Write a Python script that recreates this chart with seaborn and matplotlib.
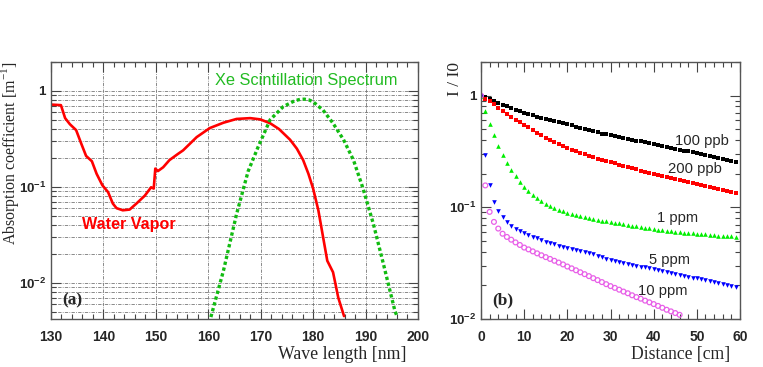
import numpy as np
import matplotlib
matplotlib.use("Agg")
import matplotlib.pyplot as plt
import matplotlib.ticker as mticker
import seaborn as sns

# (a) absorption of water vapour and Xe scintillation spectrum
wv_nm = [130, 131.9, 132.7, 133.6, 134.8, 135.8, 136.7, 137.8, 138.7, 139.8, 140.9,
         141.8, 142.5, 143.7, 145.0, 146.3, 147.9, 149.1, 149.6, 149.9, 150.4, 151.4,
         152.6, 154.2, 155.2, 157.8, 160.3, 162.9, 165.4, 168.0, 169.9, 171.8, 173.5,
         175.6, 176.9, 178.1, 179.1, 180.0, 181.0, 181.9, 182.7, 183.8, 184.8, 185.9]
wv_abs = [0.72, 0.71, 0.52, 0.45, 0.39, 0.28, 0.21, 0.185, 0.137, 0.104, 0.088,
          0.067, 0.060, 0.057, 0.058, 0.067, 0.081, 0.099, 0.096, 0.155, 0.146, 0.16,
          0.19, 0.22, 0.24, 0.33, 0.41, 0.466, 0.51, 0.52, 0.505, 0.46, 0.40,
          0.31, 0.25, 0.19, 0.137, 0.096, 0.057, 0.030, 0.017, 0.0129, 0.0070, 0.0045]

xe_nm = [160.5, 162.9, 165.4, 167.6, 169.5, 171.8, 174.3, 176.5, 177.5, 178.3, 179.2,
         180.0, 181.9, 183.8, 185.8, 187.7, 189.5, 191.5, 193.4, 195.6, 196.0]
xe_spec = [0.0044, 0.0134, 0.052, 0.145, 0.26, 0.50, 0.685, 0.79, 0.815, 0.82, 0.805,
           0.77, 0.63, 0.46, 0.31, 0.19, 0.097, 0.041, 0.0158, 0.0051, 0.0045]

# (b) transmission vs distance for several water concentrations
dist_cm = list(range(60))
t_100ppb = [1.0, 0.966, 0.927, 0.895, 0.863, 0.832, 0.80, 0.771, 0.748, 0.726,
            0.705, 0.685, 0.665, 0.647, 0.634, 0.621, 0.607, 0.593, 0.578, 0.565,
            0.553, 0.541, 0.527, 0.515, 0.505, 0.493, 0.483, 0.468, 0.457, 0.449,
            0.441, 0.433, 0.425, 0.417, 0.409, 0.404, 0.396, 0.389, 0.382, 0.374,
            0.366, 0.36, 0.353, 0.346, 0.34, 0.333, 0.328, 0.322, 0.316, 0.311,
            0.305, 0.299, 0.293, 0.287, 0.281, 0.275, 0.27, 0.264, 0.259, 0.252]
t_200ppb = [1.0, 0.933, 0.895, 0.836, 0.776, 0.724, 0.679, 0.64, 0.607, 0.575,
            0.547, 0.519, 0.49, 0.465, 0.442, 0.42, 0.401, 0.383, 0.366, 0.352,
            0.34, 0.327, 0.316, 0.307, 0.297, 0.288, 0.28, 0.272, 0.265, 0.259,
            0.253, 0.247, 0.24, 0.234, 0.229, 0.223, 0.218, 0.213, 0.208, 0.204,
            0.2, 0.195, 0.191, 0.187, 0.183, 0.179, 0.175, 0.172, 0.169, 0.166,
            0.162, 0.159, 0.156, 0.153, 0.15, 0.147, 0.144, 0.141, 0.138, 0.135]
t_1ppm = [1.0, 0.73, 0.56, 0.44, 0.355, 0.292, 0.249, 0.214, 0.189, 0.168,
          0.152, 0.14, 0.13, 0.121, 0.114, 0.108, 0.103, 0.099, 0.095, 0.092,
          0.089, 0.087, 0.085, 0.083, 0.082, 0.08, 0.079, 0.077, 0.076, 0.075,
          0.074, 0.073, 0.072, 0.0705, 0.0695, 0.0685, 0.0675, 0.0665, 0.0655, 0.065,
          0.064, 0.0632, 0.0625, 0.0617, 0.061, 0.0604, 0.06, 0.0594, 0.0589, 0.0584,
          0.0579, 0.0575, 0.0571, 0.0566, 0.0562, 0.0558, 0.0555, 0.0551, 0.0548, 0.0545]
t_5ppm = [1.0, 0.295, 0.157, 0.112, 0.093, 0.082, 0.074, 0.068, 0.0645, 0.0615,
          0.059, 0.0567, 0.0545, 0.0527, 0.051, 0.0493, 0.0479, 0.0465, 0.0453, 0.0442,
          0.0432, 0.0423, 0.0414, 0.0405, 0.0397, 0.0388, 0.0378, 0.0367, 0.0357, 0.0348,
          0.034, 0.0333, 0.0326, 0.0319, 0.0312, 0.0306, 0.03, 0.0295, 0.029, 0.0285,
          0.028, 0.0275, 0.027, 0.0265, 0.026, 0.0255, 0.0248, 0.0244, 0.024, 0.0235,
          0.0231, 0.0227, 0.0222, 0.0218, 0.0214, 0.021, 0.0205, 0.0201, 0.0197, 0.0192]
t_10ppm = [1.0, 0.157, 0.091, 0.074, 0.0645, 0.058, 0.0543, 0.0513, 0.0485, 0.046,
           0.0436, 0.042, 0.0403, 0.0387, 0.0372, 0.0358, 0.0345, 0.0332, 0.032, 0.0308,
           0.0295, 0.0284, 0.0273, 0.0262, 0.0252, 0.0242, 0.0232, 0.0223, 0.0214, 0.0205,
           0.0197, 0.019, 0.0183, 0.0176, 0.017, 0.0163, 0.0157, 0.0152, 0.0146, 0.0141,
           0.0136, 0.0131, 0.0126, 0.0121, 0.0117, 0.0113, 0.0109]

# tick labels
wv_ticks = [130, 140, 150, 160, 170, 180, 190, 200]
dist_ticks = [0, 10, 20, 30, 40, 50, 60]
log_ticks = [0.01, 0.1, 1]
log_labels = [r"$\mathbf{10^{-2}}$", r"$\mathbf{10^{-1}}$", "1"]

sns.set_style("ticks")
plt.rcParams["font.family"] = ["Liberation Sans", "DejaVu Sans"]
plt.rcParams["mathtext.fontset"] = "custom"
plt.rcParams["mathtext.rm"] = "Liberation Sans"
plt.rcParams["mathtext.bf"] = "Liberation Sans:bold"

fig = plt.figure(figsize=(7.63, 3.67), dpi=100)
ax1 = fig.add_axes([0.0668, 0.1308, 0.481, 0.7003])
ax2 = fig.add_axes([0.6304, 0.1308, 0.3395, 0.7003])

serif = ["Liberation Serif", "DejaVu Serif"]


def style_axis(ax, xticks):
    ax.set_yscale("log")
    ax.set_yticks(log_ticks, labels=log_labels, fontweight="bold", fontsize=9.6)
    ax.yaxis.set_minor_locator(mticker.LogLocator(base=10, subs=np.arange(2, 10)))
    ax.yaxis.set_minor_formatter(mticker.NullFormatter())
    ax.set_xticks(xticks, labels=[str(t) for t in xticks], fontweight="bold", fontsize=10)
    ax.xaxis.set_minor_locator(mticker.MultipleLocator(2))
    ax.tick_params(which="both", direction="in", top=True, right=True, width=0.8,
                   color="#444444")
    ax.tick_params(which="major", length=7)
    ax.tick_params(which="minor", length=3.5)
    ax.tick_params(axis="x", which="major", pad=8)
    ax.tick_params(axis="y", which="major", pad=3.5)
    ax.set_xlabel("")
    ax.set_ylabel("")
    for s in ax.spines.values():
        s.set_color("#555555")
        s.set_linewidth(1.0)


# ---- panel (a)
sns.lineplot(x=wv_nm, y=wv_abs, ax=ax1, color="#ff0000", lw=1.9, sort=False)
sns.lineplot(x=xe_nm, y=xe_spec, ax=ax1, color="#11bb11", lw=2.4, sort=False,
             linestyle=(0, (1, 0.8)))
style_axis(ax1, wv_ticks)
ax1.set_xlim(130, 200)
ax1.set_ylim(0.0042, 2.0)
ax1.grid(True, which="major", axis="x", color="#777777", lw=0.6, ls=(0, (4, 1.5, 1, 1.5)))
ax1.grid(True, which="both", axis="y", color="#777777", lw=0.6, ls=(0, (4, 1.5, 1, 1.5)))
ax1.text(0.97, -0.14, "Wave length [nm]", transform=ax1.transAxes, ha="right",
         va="center", family=serif, fontsize=12.8)
ax1.text(-0.111, 1.0, "Absorption coefficient [m$^{\\mathregular{-1}}$]",
         transform=ax1.transAxes, rotation=90, ha="center", va="top", family=serif,
         fontsize=11.4)
ax1.text(161.3, 1.27, "Xe Scintillation Spectrum", color="#22bb22", fontsize=11.8,
         va="center", ha="left")
ax1.text(135.9, 0.041, "Water Vapor", color="#ff0000", fontsize=11.6, fontweight="bold",
         va="center", ha="left")
ax1.text(0.03, 0.074, "(a)", transform=ax1.transAxes, family=serif, fontweight="bold",
         fontsize=12.5, va="center", ha="left")

# ---- panel (b)
sns.scatterplot(x=dist_cm, y=t_100ppb, ax=ax2, marker="s", color="black", s=5, linewidth=0)
sns.scatterplot(x=dist_cm, y=t_200ppb, ax=ax2, marker="s", color="#ff0000", s=9, linewidth=0)
sns.scatterplot(x=dist_cm, y=t_1ppm, ax=ax2, marker="^", color="#00ee00", s=11, linewidth=0)
sns.scatterplot(x=dist_cm, y=t_5ppm, ax=ax2, marker="v", color="#0000ff", s=11, linewidth=0)
sns.scatterplot(x=dist_cm[:len(t_10ppm)], y=t_10ppm, ax=ax2, marker="o", s=12,
                facecolors="none", edgecolor="#e860e8", linewidth=0.9)
style_axis(ax2, dist_ticks)
ax2.set_xlim(0, 60)
ax2.set_ylim(0.01, 2.0)
ax2.text(0.961, -0.14, "Distance [cm]", transform=ax2.transAxes, ha="right",
         va="center", family=serif, fontsize=12.7)
ax2.text(-0.10, 1.0, "I / I0", transform=ax2.transAxes, rotation=90, ha="center",
         va="top", family=serif, fontsize=12.5)
for txt, x, y in [("100 ppb", 44.9, 0.396), ("200 ppb", 43.3, 0.218), ("1 ppm", 40.8, 0.0798),
                  ("5 ppm", 38.9, 0.0336), ("10 ppm", 36.4, 0.0178)]:
    ax2.text(x, y, txt, fontsize=10.6, va="center", ha="left")
ax2.text(0.042, 0.074, "(b)", transform=ax2.transAxes, family=serif, fontweight="bold",
         fontsize=12.5, va="center", ha="left")

fig.savefig("out.png", dpi=100)
